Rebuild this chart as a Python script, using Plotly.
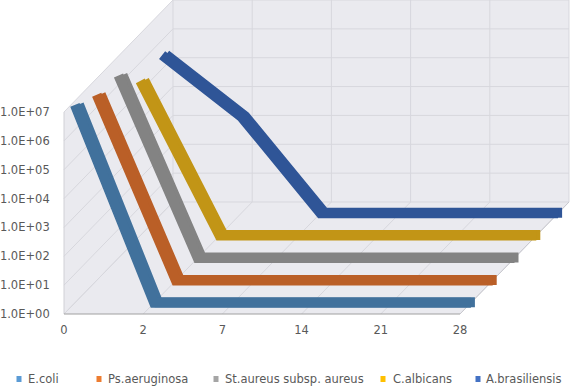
import plotly.graph_objects as go

# ---------------- data ----------------
days = ["0", "2", "7", "14", "21", "28"]
series_names = ["E.coli", "Ps.aeruginosa", "St.aureus subsp. aureus", "C.albicans", "A.brasiliensis"]
ecoli = [7.2e6, 1, 1, 1, 1, 1]
ps_aeruginosa = [2.7e6, 1, 1, 1, 1, 1]
st_aureus = [2.1e6, 1, 1, 1, 1, 1]
c_albicans = [2.3e5, 1, 1, 1, 1, 1]
a_brasiliensis = [3.0e5, 2.2e3, 1, 1, 1, 1]
y_tick_vals = [1, 10, 100, 1e3, 1e4, 1e5, 1e6, 1e7]
y_tick_text = ["1.0E+00", "1.0E+01", "1.0E+02", "1.0E+03", "1.0E+04", "1.0E+05", "1.0E+06", "1.0E+07"]

series_values = [ecoli, ps_aeruginosa, st_aureus, c_albicans, a_brasiliensis]
legend_colors = ["#5B9BD5", "#ED7D31", "#A5A5A5", "#FFC000", "#4472C4"]
ribbon_colors = ["#41719C", "#BA5F27", "#838383", "#C29516", "#2F5597"]

# ---------------- geometry (pixels) ----------------
W, H = 572, 386
FX0, FX1 = 64, 460      # front plane: first / last category
FY0, FY7 = 314, 112     # front plane: 1e0 / 1e7
DEPTH_X, DEPTH_Y = 109, 112
NCAT = len(days) - 1
NDEC = 7
CW = (FX1 - FX0) / NCAT
DH = (FY0 - FY7) / NDEC
NS = len(series_names)
LEG_Y = 379
LEG_MARK_X = [19, 99, 216, 383, 478]
LEG_TEXT_X = [26, 106, 223, 391, 484]

def xp(px):
    return px / W

def yp(py):
    return 1 - py / H

def domains(sx, sy, pad_c, pad_d):
    left = FX0 + sx - pad_c * CW
    right = FX1 + sx + pad_c * CW
    bottom = FY0 - sy + pad_d * DH
    top = FY7 - sy - pad_d * DH
    xd = [max(0, xp(left)), min(1, xp(right))]
    yd = [max(0, yp(bottom)), min(1, yp(top))]
    return xd, yd

fig = go.Figure()
layout_axes = {}

WALL = "#EAEAEF"
GRID = "#D7D7DD"
shapes = []
annotations = []

def path(points):
    s = "M " + " L ".join(f"{xp(x):.5f},{yp(y):.5f}" for x, y in points) + " Z"
    return s

# walls
back = [(FX0 + DEPTH_X, FY7 - DEPTH_Y), (FX1 + DEPTH_X, FY7 - DEPTH_Y),
        (FX1 + DEPTH_X, FY0 - DEPTH_Y), (FX0 + DEPTH_X, FY0 - DEPTH_Y)]
left_wall = [(FX0, FY7), (FX0 + DEPTH_X, FY7 - DEPTH_Y), (FX0 + DEPTH_X, FY0 - DEPTH_Y), (FX0, FY0)]
floor = [(FX0, FY0), (FX1, FY0), (FX1 + DEPTH_X, FY0 - DEPTH_Y), (FX0 + DEPTH_X, FY0 - DEPTH_Y)]
for poly in (back, left_wall, floor):
    shapes.append(dict(type="path", xref="paper", yref="paper", path=path(poly),
                       fillcolor=WALL, line=dict(width=0), layer="below"))

def seg(x0, y0, x1, y1, color=GRID, width=1):
    shapes.append(dict(type="line", xref="paper", yref="paper",
                       x0=xp(x0), y0=yp(y0), x1=xp(x1), y1=yp(y1),
                       line=dict(color=color, width=width), layer="below"))

for k in range(NDEC + 1):
    y = FY0 - k * DH
    seg(FX0 + DEPTH_X, y - DEPTH_Y, FX1 + DEPTH_X, y - DEPTH_Y)   # back wall horizontal
    seg(FX0, y, FX0 + DEPTH_X, y - DEPTH_Y)                         # left wall diagonal
for j in range(NCAT + 1):
    x = FX0 + j * CW
    seg(x + DEPTH_X, FY7 - DEPTH_Y, x + DEPTH_X, FY0 - DEPTH_Y)   # back wall vertical
    seg(x, FY0, x + DEPTH_X, FY0 - DEPTH_Y)                         # floor diagonal
seg(FX0, FY7, FX0, FY0, color="#D0D0D6")
seg(FX1, FY0, FX1 + DEPTH_X, FY0 - DEPTH_Y, color="#C8C8CE")
seg(FX0, FY0, FX1, FY0, color="#A0A0A0")

# ---------------- ribbons ----------------
PAD_C, PAD_D = 0.08, 0.3
ax_id = 2
for i in range(NS - 1, -1, -1):
    sx = (i + 0.5) * DEPTH_X / NS
    sy = (i + 0.5) * DEPTH_Y / NS
    for (ox, oy) in ((4.0, 0.5), (0.0, 0.0)):
        xd, yd = domains(sx + ox, sy + oy, PAD_C, PAD_D)
        layout_axes[f"xaxis{ax_id}"] = dict(domain=xd, type="category", categoryorder="array",
                                            categoryarray=days, range=[-PAD_C, NCAT + PAD_C],
                                            visible=False, anchor=f"y{ax_id}", fixedrange=True,
                                            automargin=False)
        layout_axes[f"yaxis{ax_id}"] = dict(domain=yd, type="log", range=[-PAD_D, NDEC + PAD_D],
                                            visible=False, anchor=f"x{ax_id}", fixedrange=True,
                                            automargin=False)
        fig.add_trace(go.Scatter(x=days, y=series_values[i], mode="lines", name=series_names[i],
                                 line=dict(color=ribbon_colors[i], width=10),
                                 xaxis=f"x{ax_id}", yaxis=f"y{ax_id}",
                                 showlegend=False, hoverinfo="skip"))
        ax_id += 1

# front axis holder (tick labels)
fig.add_trace(go.Scatter(x=[None], y=[None], mode="markers", showlegend=False,
                         hoverinfo="skip", xaxis="x", yaxis="y"))

FONT = "DejaVu Sans"
TXT = "#595959"

# legend (bottom row)
for i in range(NS):
    mx = LEG_MARK_X[i]
    shapes.append(dict(type="rect", xref="paper", yref="paper",
                       x0=xp(mx - 2.5), x1=xp(mx + 2.5), y0=yp(LEG_Y + 3), y1=yp(LEG_Y - 3),
                       fillcolor=legend_colors[i], line=dict(width=0), layer="above"))
    annotations.append(dict(xref="paper", yref="paper", x=xp(LEG_TEXT_X[i]), y=yp(LEG_Y),
                            xanchor="left", yanchor="middle", showarrow=False,
                            text=series_names[i], font=dict(family=FONT, size=11.5, color=TXT)))

fxd = [xp(FX0), xp(FX1)]
fyd = [yp(FY0), yp(FY7)]
fig.update_layout(
    template="none",
    width=W, height=H,
    margin=dict(l=0, r=0, t=0, b=0, pad=0, autoexpand=False),
    paper_bgcolor="white", plot_bgcolor="rgba(0,0,0,0)",
    font=dict(family=FONT, size=11.5, color=TXT),
    showlegend=False,
    shapes=shapes,
    annotations=annotations,
    xaxis=dict(domain=fxd, range=[0, NCAT], tickmode="array", tickvals=list(range(len(days))),
               ticktext=days, showgrid=False, zeroline=False, showline=False,
               ticks="outside", ticklen=5, tickcolor="rgba(0,0,0,0)", automargin=False,
               tickfont=dict(family=FONT, size=11.5, color=TXT), fixedrange=True),
    yaxis=dict(domain=fyd, type="log", range=[0, NDEC], tickmode="array", tickvals=y_tick_vals,
               ticktext=y_tick_text, showgrid=False, zeroline=False, showline=False,
               ticks="outside", ticklen=11, tickcolor="rgba(0,0,0,0)", automargin=False,
               tickfont=dict(family=FONT, size=11.5, color=TXT), fixedrange=True),
    **layout_axes,
)

fig.write_html("out.html", config={"displayModeBar": False},
               post_script="document.body.style.margin='0px';document.body.style.overflow='hidden';")
